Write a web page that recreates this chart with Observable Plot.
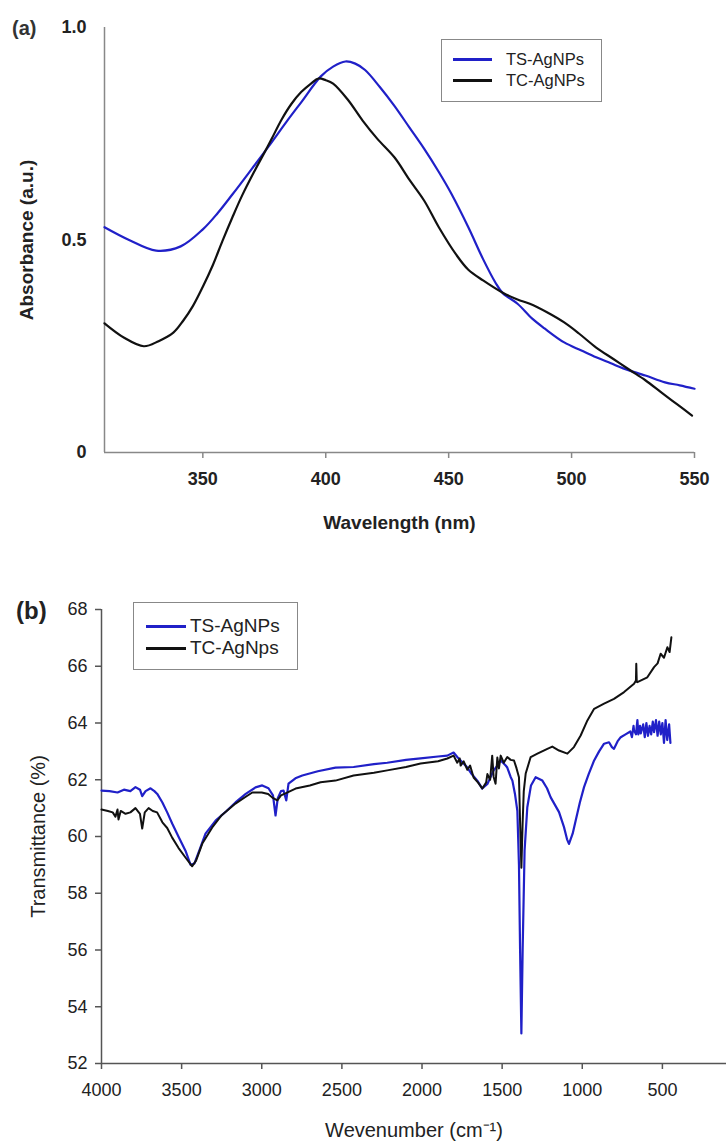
<!DOCTYPE html>
<html><head><meta charset="utf-8">
<script src="https://cdn.jsdelivr.net/npm/d3@7"></script>
<script src="https://cdn.jsdelivr.net/npm/@observablehq/plot@0.6"></script>
<style>
body{margin:0;background:#fff;font-family:"Liberation Sans",Arial,sans-serif;}
#root{position:relative;width:726px;height:1142px;overflow:hidden;background:#fff}
.abs{position:absolute}
.legend{position:absolute;border:1.5px solid #888;background:#fff;box-sizing:border-box}
.sw{position:absolute;height:3px}
.lt{position:absolute;color:#222;white-space:nowrap}
.panel{position:absolute;left:0}
</style></head>
<body><div id="root">
<div id="pa" class="panel" style="top:0"></div>
<div id="pb" class="panel" style="top:545px"></div>
<div class="abs" style="left:12px;top:17px;font-size:20px;font-weight:bold;color:#333">(a)</div>
<div class="abs" style="left:16px;top:597px;font-size:24px;font-weight:bold;color:#222">(b)</div>
<div class="legend" style="left:441px;top:39px;width:161px;height:63px">
  <div class="sw" style="left:11px;top:18px;width:39px;background:#2020c8"></div>
  <div class="lt" style="left:64px;top:10px;font-size:16.5px;line-height:18px">TS-AgNPs</div>
  <div class="sw" style="left:11px;top:39px;width:39px;background:#111"></div>
  <div class="lt" style="left:64px;top:31px;font-size:16.5px;line-height:18px">TC-AgNPs</div>
</div>
<div class="legend" style="left:133px;top:602px;width:165px;height:68px">
  <div class="sw" style="left:12px;top:22px;width:40px;background:#2020c8"></div>
  <div class="lt" style="left:56px;top:12px;font-size:19px;line-height:21px">TS-AgNPs</div>
  <div class="sw" style="left:12px;top:44px;width:40px;background:#111"></div>
  <div class="lt" style="left:56px;top:34px;font-size:19px;line-height:21px">TC-AgNps</div>
</div>
</div>
<script>
// ---------- Panel (a): UV-Vis ----------
const uvWavelengthTS = [310,320,331,341,350,356,362,370,377,384,390,398,403,408,412,416,422,428,434,440,446,451,458,464,469,472,478,484,489,497,504,510,516,521,530,538,544,550];
const uvAbsTS =        [0.53,0.50,0.475,0.485,0.525,0.563,0.607,0.668,0.722,0.778,0.824,0.885,0.908,0.92,0.915,0.90,0.86,0.815,0.765,0.715,0.66,0.61,0.53,0.455,0.40,0.375,0.35,0.315,0.292,0.259,0.24,0.224,0.21,0.198,0.181,0.165,0.158,0.15];
const uvWavelengthTC = [310,318,326,332,338,342,346,350,354,358,362,366,371,375,378,382,386,390,394,397,400,403,409,415,421,428,434,440,446,453,458,464,472,478,483,490,497,503,510,517,524,530,537,543,549];
const uvAbsTC =        [0.304,0.27,0.25,0.262,0.282,0.31,0.345,0.39,0.44,0.498,0.553,0.605,0.662,0.705,0.738,0.783,0.82,0.848,0.868,0.88,0.876,0.868,0.83,0.781,0.738,0.694,0.642,0.593,0.53,0.466,0.43,0.405,0.376,0.36,0.35,0.33,0.306,0.28,0.247,0.22,0.193,0.17,0.139,0.113,0.087];
const xTicksA = [350,400,450,500,550];
const yTicksA = [0,0.5,1];
const yTickLabelsA = ["0","0.5","1.0"];

// ---------- Panel (b): FTIR ----------
const irWaveTS = [4000,3950,3900,3860,3820,3788,3760,3746,3725,3694,3670,3652,3620,3590,3559,3520,3476,3444,3420,3390,3351,3288,3220,3164,3100,3039,2997,2958,2930,2914,2900,2880,2864,2847,2833,2790,2747,2650,2540,2427,2300,2217,2100,2009,1900,1842,1803,1780,1759,1717,1690,1655,1624,1592,1553,1530,1509,1478,1468,1447,1436,1420,1405,1395,1388,1380,1372,1360,1343,1320,1291,1249,1220,1197,1145,1114,1095,1083,1060,1041,1015,989,960,926,895,864,833,815,802,780,760,730,700,690,680,677,665,656,650,640,635,620,610,600,590,580,570,560,552,540,530,520,510,500,490,480,470,458,450];
const irTransTS = [61.62,61.6,61.55,61.65,61.6,61.74,61.65,61.42,61.6,61.7,61.6,61.5,61.2,60.85,60.46,60.0,59.5,59.0,59.05,59.5,60.1,60.56,60.9,61.2,61.5,61.73,61.8,61.7,61.45,60.74,61.35,61.6,61.62,61.27,61.86,62.05,62.15,62.3,62.43,62.45,62.55,62.6,62.7,62.75,62.82,62.85,62.96,62.8,62.68,62.43,62.2,61.97,61.69,61.85,62.33,62.5,62.68,62.5,62.43,62.1,61.97,61.5,60.9,59.0,56.0,53.06,56.0,59.5,61.03,61.8,62.09,61.97,61.7,61.38,60.86,60.33,59.9,59.74,60.1,60.56,61.2,61.74,62.2,62.68,63.0,63.27,63.32,63.15,63.09,63.35,63.5,63.6,63.7,63.5,63.9,63.74,63.6,64.1,63.6,63.9,63.63,63.95,63.5,64.0,63.55,63.9,63.6,64.05,63.68,64.1,63.55,64.05,63.6,64.0,63.3,64.1,63.4,63.95,63.3];
const irWaveTC = [4000,3960,3930,3913,3900,3894,3880,3850,3820,3788,3760,3746,3730,3706,3680,3653,3620,3590,3559,3520,3476,3434,3410,3371,3309,3250,3164,3100,3059,3000,2960,2934,2903,2880,2852,2789,2700,2633,2540,2427,2300,2217,2100,2009,1900,1842,1803,1780,1765,1759,1740,1717,1700,1678,1650,1624,1600,1592,1575,1562,1553,1541,1530,1520,1509,1490,1468,1447,1426,1410,1395,1388,1380,1372,1365,1353,1322,1280,1218,1187,1145,1093,1052,1010,968,926,864,802,739,677,665,663,660,656,594,552,530,511,490,469,455,444];
const irTransTC = [60.95,60.9,60.85,60.7,60.95,60.6,60.9,60.8,60.85,61.0,60.8,60.28,60.85,61.0,60.9,60.85,60.5,60.3,59.96,59.6,59.26,58.95,59.15,59.75,60.32,60.75,61.16,61.4,61.55,61.55,61.5,61.37,61.27,61.45,61.52,61.69,61.8,61.91,61.97,62.15,62.25,62.33,62.45,62.57,62.65,62.75,62.85,62.6,62.75,62.5,62.65,62.35,62.5,62.08,61.9,61.69,61.9,62.2,62.0,62.85,62.1,61.86,62.78,62.4,62.85,62.6,62.8,62.7,62.68,62.4,62.09,60.5,58.9,60.5,61.6,62.22,62.8,62.92,63.09,63.17,63.03,62.92,63.15,63.56,64.09,64.5,64.68,64.85,65.09,65.38,65.5,66.09,65.45,65.44,65.61,65.97,66.1,66.44,66.3,66.67,66.5,67.02];
const xTicksB = [4000,3500,3000,2500,2000,1500,1000,500];
const yTicksB = [52,54,56,58,60,62,64,66,68];

const BLUE = "#2020c8", BLACK = "#111";
const FONT = "'Liberation Sans', Arial, Helvetica, sans-serif";

const tsUV = uvWavelengthTS.map((w,i)=>({w, a: uvAbsTS[i]}));
const tcUV = uvWavelengthTC.map((w,i)=>({w, a: uvAbsTC[i]}));
const tsIR = irWaveTS.map((w,i)=>({w, t: irTransTS[i]}));
const tcIR = irWaveTC.map((w,i)=>({w, t: irTransTC[i]}));

const plotA = Plot.plot({
  width: 726, height: 545,
  marginTop: 27, marginBottom: 93, marginLeft: 104, marginRight: 32,
  style: {fontFamily: FONT, fontSize: "18px", fontWeight: "bold", color: "#222", background: "transparent", overflow: "visible"},
  x: {domain: [310, 550]},
  y: {domain: [0, 1]},
  marks: [
    Plot.axisX(xTicksA, {tickSize: 6, tickPadding: 14, stroke: "#888", strokeWidth: 1.5, label: null, tickFormat: d => String(d)}),
    Plot.axisY(yTicksA, {tickSize: 0, tickPadding: 18, label: null, tickFormat: d => yTickLabelsA[yTicksA.indexOf(d)]}),
    Plot.ruleX([310], {stroke: "#888", strokeWidth: 1.5}),
    Plot.ruleY([0], {stroke: "#888", strokeWidth: 1.5}),
    Plot.line(tsUV, {x: "w", y: "a", stroke: BLUE, strokeWidth: 2.2, curve: "catmull-rom"}),
    Plot.line(tcUV, {x: "w", y: "a", stroke: BLACK, strokeWidth: 2.2, curve: "catmull-rom"}),
    Plot.text(["Wavelength (nm)"], {text: d => d, frameAnchor: "bottom", dy: 70, textAnchor: "middle", lineAnchor: "middle", fontSize: 19}),
    Plot.text(["Absorbance (a.u.)"], {text: d => d, frameAnchor: "left", rotate: -90, dx: -78, textAnchor: "middle", lineAnchor: "middle", fontSize: 19})
  ]
});
document.getElementById("pa").appendChild(plotA);

const plotB = Plot.plot({
  width: 726, height: 597,
  marginTop: 64, marginBottom: 79, marginLeft: 101, marginRight: 0,
  style: {fontFamily: FONT, fontSize: "18px", color: "#222", background: "transparent", overflow: "visible"},
  x: {domain: [4000, 100]},
  y: {domain: [52, 68]},
  marks: [
    Plot.axisX(xTicksB, {tickSize: 6, tickPadding: 14, stroke: "#555", strokeWidth: 1.5, label: null, tickFormat: d => String(d)}),
    Plot.axisY(yTicksB, {tickSize: 6, tickPadding: 8, stroke: "#555", strokeWidth: 1.5, label: null, tickFormat: d => String(d)}),
    Plot.ruleX([4000], {stroke: "#555", strokeWidth: 1.5}),
    Plot.ruleY([52], {stroke: "#555", strokeWidth: 1.5}),
    Plot.line(tsIR, {x: "w", y: "t", stroke: BLUE, strokeWidth: 2.2}),
    Plot.line(tcIR, {x: "w", y: "t", stroke: BLACK, strokeWidth: 2}),
    Plot.text(["Wevenumber (cm⁻¹)"], {text: d => d, frameAnchor: "bottom", dy: 67, textAnchor: "middle", lineAnchor: "middle", fontSize: 20}),
    Plot.text(["Transmittance (%)"], {text: d => d, frameAnchor: "left", rotate: -90, dx: -63, textAnchor: "middle", lineAnchor: "middle", fontSize: 20})
  ]
});
document.getElementById("pb").appendChild(plotB);
</script>
</body></html>
